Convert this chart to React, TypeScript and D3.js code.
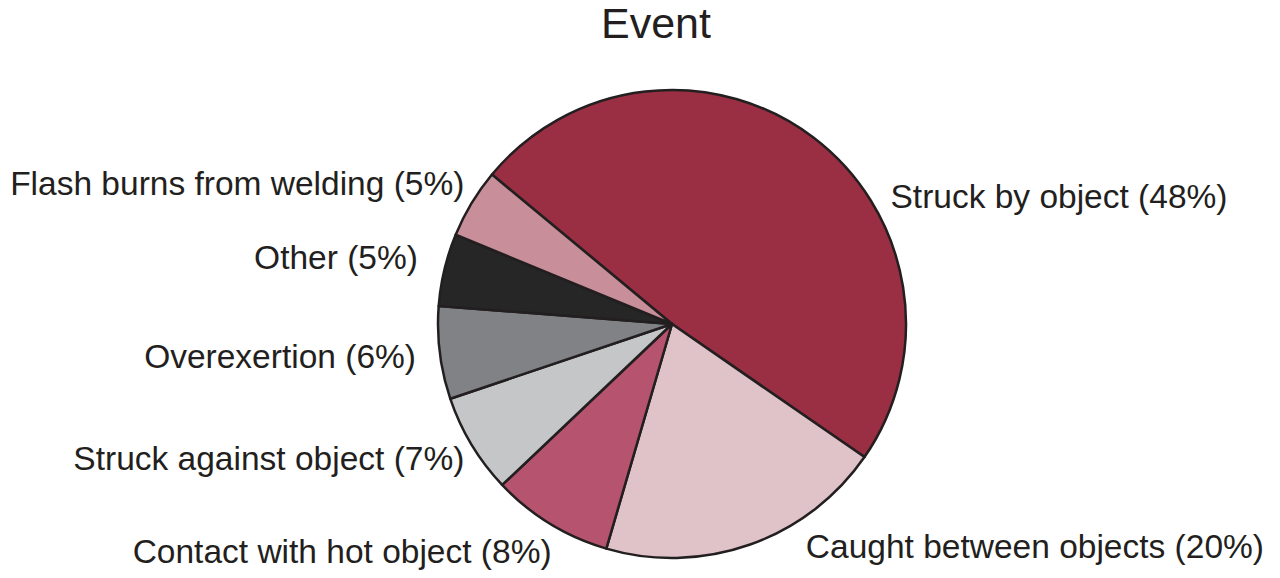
import * as d3 from 'd3';
import { useRef, useEffect } from 'react';

// Event shares (%), read clockwise from the top-left boundary
const categories = [
    'Struck by object',
    'Caught between objects',
    'Contact with hot object',
    'Struck against object',
    'Overexertion',
    'Other',
    'Flash burns from welding',
];
const shares = [48.6, 19.9, 8.4, 6.9, 6.4, 5.0, 4.8];
const shownPct = ['48%', '20%', '8%', '7%', '6%', '5%', '5%'];

const colors = ['#9A2F44', '#E0C3C9', '#B6536E', '#C5C6C8', '#818285', '#262626', '#C88F9A'];
// label nudges from the default outer point, px
const labelNudge: [number, number][] = [
    [65, 75], [49, -16], [12, 11], [10, 4], [-4, 2], [-7, -7], [10, -9],
];

const W = 1280;
const H = 578;

export default function App() {
    const svgRef = useRef<SVGSVGElement>(null);

    useEffect(() => {
        if (!svgRef.current) return;
        const svg = d3.select(svgRef.current);
        svg.selectAll('*').remove();

        const cx = 672, cy = 324, r = 234;
        const ink = '#231F20';
        const font = 'Liberation Sans, Arial, Helvetica, sans-serif';

        svg.append('text')
            .attr('x', 656)
            .attr('y', 38)
            .attr('text-anchor', 'middle')
            .attr('font-family', font)
            .attr('font-size', 43)
            .attr('fill', ink)
            .text('Event');

        const start = (-50.3 * Math.PI) / 180;
        const pie = d3.pie<number>()
            .sort(null)
            .startAngle(start)
            .endAngle(start + 2 * Math.PI);
        const arcs = pie(shares);
        const arc = d3.arc<d3.PieArcDatum<number>>().innerRadius(0).outerRadius(r);

        const g = svg.append('g').attr('transform', `translate(${cx},${cy})`);

        g.selectAll('path')
            .data(arcs)
            .enter()
            .append('path')
            .attr('d', arc)
            .attr('fill', (_, i) => colors[i])
            .attr('stroke', ink)
            .attr('stroke-width', 2.5)
            .attr('stroke-linejoin', 'round');

        const lr = r + 20;
        g.selectAll('text.lbl')
            .data(arcs)
            .enter()
            .append('text')
            .attr('class', 'lbl')
            .attr('x', (d, i) => lr * Math.sin((d.startAngle + d.endAngle) / 2) + labelNudge[i][0])
            .attr('y', (d, i) => -lr * Math.cos((d.startAngle + d.endAngle) / 2) + 11 + labelNudge[i][1])
            .attr('text-anchor', d => (Math.sin((d.startAngle + d.endAngle) / 2) > 0 ? 'start' : 'end'))
            .attr('font-family', font)
            .attr('font-size', 33.5)
            .attr('fill', ink)
            .text((_, i) => `${categories[i]} (${shownPct[i]})`);
    }, []);

    return (
        <svg
            ref={svgRef}
            width={W}
            height={H}
            style={{ position: 'absolute', left: 0, top: 0, background: '#fff' }}
        />
    );
}
